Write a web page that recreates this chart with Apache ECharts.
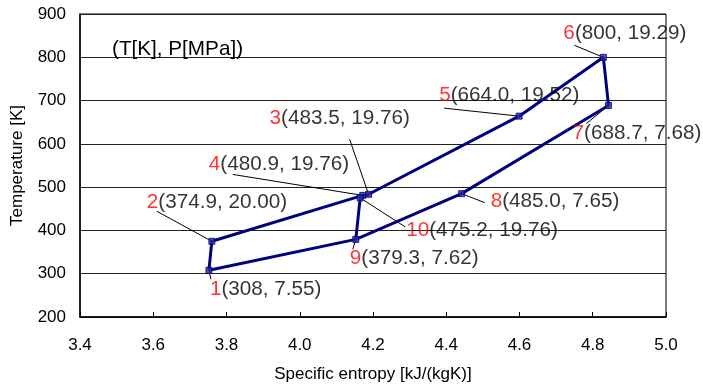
<!DOCTYPE html>
<html>
<head>
<meta charset="utf-8">
<script src="https://cdn.jsdelivr.net/npm/echarts@6/dist/echarts.min.js"></script>
<style>
  html, body { margin: 0; padding: 0; background: #fff; }
  #chart { width: 703px; height: 390px; }
</style>
</head>
<body>
<div id="chart"></div>
<script>
// ---- data ----
const pointIds     = ['1', '2', '3', '4', '5', '6', '7', '8', '9', '10'];
const entropy      = [3.752, 3.760, 4.188, 4.172, 4.599, 4.829, 4.843, 4.442, 4.153, 4.165];
const temperature  = [308, 374.9, 483.5, 480.9, 664.0, 800, 688.7, 485.0, 379.3, 475.2];
const tempText     = ['308', '374.9', '483.5', '480.9', '664.0', '800', '688.7', '485.0', '379.3', '475.2'];
const pressureText = ['7.55', '20.00', '19.76', '19.76', '19.52', '19.29', '7.68', '7.65', '7.62', '19.76'];
// cycle paths given as point ids
const mainPath   = ['1', '2', '4', '3', '5', '6', '7', '8', '9', '1'];
const branchPath = ['9', '10', '3'];
const xTicks = { min: 3.4, max: 5.0, step: 0.2 };
const yTicks = { min: 200, max: 900, step: 100 };

// ---- label placement (offset of label left / middle from point, px) ----
const labelOffsets = {
  '1': [1, 19], '2': [-65, -39], '3': [-99, -76], '4': [-154, -31], '5': [-80, -21],
  '6': [-40, -24], '7': [-36, 28], '8': [29, 8], '9': [-6, 19], '10': [46, 32]
};
// ---- leader line: offset of the label-side end from the point, px ----
const leaderOffsets = {
  '1': [2, 9], '2': [-55, -30], '3': [-19, -55], '4': [-130, -21], '5': [-75, -8],
  '6': [-29, -12], '7': [-22, 18], '8': [23, 9], '9': [-3, 10], '10': [45, 29]
};

const FONT = 'Liberation Sans, Arial, sans-serif';
const LINE = '#000080';

function pathData(path) {
  return path.map(id => {
    const i = pointIds.indexOf(id);
    return [entropy[i], temperature[i]];
  });
}
const pointData = pointIds.map((id, i) => ({
  value: [entropy[i], temperature[i]],
  id: id,
  tText: tempText[i],
  pText: pressureText[i]
}));

const chart = echarts.init(document.getElementById('chart'), null, { renderer: 'canvas' });
chart.setOption({
  animation: false,
  title: {
    text: '(T[K], P[MPa])',
    left: 107, top: 34,
    textStyle: { fontFamily: FONT, fontSize: 20.7, fontWeight: 'normal', color: '#000' }
  },
  grid: {
    left: 80, right: 37, top: 14, bottom: 73,
    show: true, borderColor: '#000', borderWidth: 1, backgroundColor: 'transparent'
  },
  xAxis: {
    type: 'value', min: xTicks.min, max: xTicks.max, interval: xTicks.step,
    name: 'Specific entropy [kJ/(kgK)]', nameLocation: 'middle', nameGap: 49,
    nameTextStyle: { fontFamily: FONT, fontSize: 17, color: '#000' },
    axisLine: { lineStyle: { color: '#000', width: 1.5 } },
    axisTick: { show: true, inside: true, length: 5, lineStyle: { color: '#000' } },
    axisLabel: { fontFamily: FONT, fontSize: 17, color: '#000', margin: 20,
                 formatter: v => v.toFixed(1) },
    splitLine: { show: false }
  },
  yAxis: {
    type: 'value', min: yTicks.min, max: yTicks.max, interval: yTicks.step,
    name: 'Temperature [K]', nameLocation: 'middle', nameGap: 54,
    nameTextStyle: { fontFamily: FONT, fontSize: 17, color: '#000' },
    axisLine: { show: true, lineStyle: { color: '#000', width: 1.5 } },
    axisTick: { show: false },
    axisLabel: { fontFamily: FONT, fontSize: 17, color: '#000', margin: 14 },
    splitLine: { show: true, lineStyle: { color: '#222', width: 1 } }
  },
  series: [
    {
      type: 'custom', name: 'leaders', data: pointData, z: 2,
      renderItem: function (params, api) {
        const p = api.coord([api.value(0), api.value(1)]);
        const off = leaderOffsets[pointIds[params.dataIndex]];
        return {
          type: 'line',
          shape: { x1: p[0], y1: p[1], x2: p[0] + off[0], y2: p[1] + off[1] },
          style: { stroke: '#000', lineWidth: 1 }
        };
      }
    },
    {
      type: 'line', name: 'main', data: pathData(mainPath),
      symbol: 'none', lineStyle: { color: LINE, width: 3 }, z: 3
    },
    {
      type: 'line', name: 'branch', data: pathData(branchPath),
      symbol: 'none', lineStyle: { color: LINE, width: 3 }, z: 3
    },
    {
      type: 'scatter', name: 'points', data: pointData,
      symbol: 'rect', symbolSize: 6, z: 5,
      itemStyle: { color: '#2a2a9c', borderColor: LINE, borderWidth: 1 },
      label: {
        show: true,
        formatter: p => '{r|' + p.data.id + '}{b|(' + p.data.tText + ', ' + p.data.pText + ')}',
        rich: {
          r: { color: '#ff0000', fontFamily: FONT, fontSize: 20.7 },
          b: { color: '#000', fontFamily: FONT, fontSize: 20.7 }
        }
      },
      labelLayout: function (params) {
        const id = pointIds[params.dataIndex];
        const off = labelOffsets[id];
        const cx = params.rect.x + params.rect.width / 2;
        const cy = params.rect.y + params.rect.height / 2;
        return { x: cx + off[0], y: cy + off[1], align: 'left', verticalAlign: 'middle' };
      }
    }
  ]
});
</script>
</body>
</html>
